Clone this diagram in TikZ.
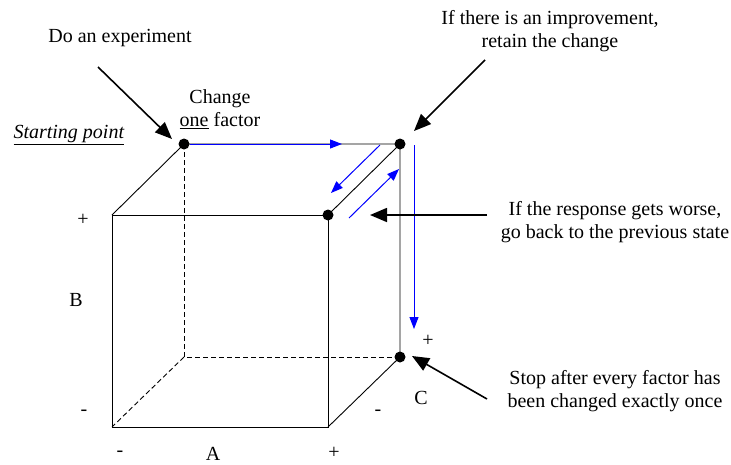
\documentclass[tikz,border=0pt]{standalone}
\usepackage{fontspec}
\setmainfont{Liberation Serif}
\usetikzlibrary{arrows.meta}

\begin{document}
\begin{tikzpicture}[x=1pt, y=-1pt, font=\rmfamily\fontsize{20}{23.5}\selectfont,
  dot/.style={circle, fill=black, inner sep=0pt, minimum size=11pt},
  edge/.style={line width=0.9pt},
  hidden/.style={line width=0.9pt, dash pattern=on 5pt off 3pt},
  note/.style={align=center, inner sep=0pt},
  sign/.style={inner sep=0pt},
  pointer/.style={line width=1.6pt, -{Triangle[length=17pt, width=14pt]}},
  move/.style={blue, line width=1pt, -{Triangle[length=12pt, width=9pt]}}]
  \useasboundingbox (0,0) rectangle (731,464);
  % cube corners: f = front, b = back
  \coordinate (ftl) at (112,215); \coordinate (ftr) at (328,215);
  \coordinate (fbl) at (112,427); \coordinate (fbr) at (328,427);
  \coordinate (btl) at (184,144); \coordinate (btr) at (400,144);
  \coordinate (bbl) at (184,357); \coordinate (bbr) at (400,357);
  \draw[hidden] (btl) -- (bbl) -- (bbr);
  \draw[hidden] (bbl) -- (fbl);
  \draw[edge] (fbl) rectangle (ftr);
  \draw[edge] (ftl) -- (btl) -- (btr) -- (ftr);
  \draw[edge] (btr) -- (bbr) -- (fbr);
  \node[dot] (start) at (btl) {};
  \node[dot] (better) at (btr) {};
  \node[dot] (worse) at (ftr) {};
  \node[dot] (stop) at (bbr) {};
  % moves along the cube
  \coordinate (m1) at (342,144);
  \coordinate (m2a) at (380,145); \coordinate (m2b) at (331,193);
  \coordinate (m3a) at (349,218); \coordinate (m3b) at (399,169);
  \coordinate (m4a) at (414,145); \coordinate (m4b) at (414,329);
  \draw[move] (start) -- (m1);
  \draw[move] (m2a) -- (m2b);
  \draw[move] (m3a) -- (m3b);
  \draw[move] (m4a) -- (m4b);
  % texts
  \node[note] (expt) at (120,38) {Do an experiment};
  \node[note] (chg) at (220,109) {Change\\\underline{one} factor};
  \node[note] (sp) at (69,135) {\underline{\textit{Starting point}}};
  \node[note] (impr) at (550,31) {If there is an improvement,\\retain the change};
  \node[note] (resp) at (615,222) {If the response gets worse,\\go back to the previous state};
  \node[note] (once) at (615,391) {Stop after every factor has\\been changed exactly once};
  % pointers
  \coordinate (p1a) at (98,67); \coordinate (p1b) at (172,139);
  \coordinate (p2a) at (485,60); \coordinate (p2b) at (414,131);
  \coordinate (p3a) at (487,215); \coordinate (p3b) at (370,215);
  \coordinate (p4a) at (487,399); \coordinate (p4b) at (412,356);
  \draw[pointer] (p1a) -- (p1b);
  \draw[pointer] (p2a) -- (p2b);
  \draw[pointer] (p3a) -- (p3b);
  \draw[pointer] (p4a) -- (p4b);
  % factor levels
  \node[sign] (bplus) at (83,220) {+};
  \node[sign] (bname) at (76,300) {B};
  \node[sign] (bminus) at (84,413) {-};
  \node[sign] (aminus) at (120,454) {-};
  \node[sign] (aname) at (213,454) {A};
  \node[sign] (aplus) at (334,453) {+};
  \node[sign] (cminus) at (378,413) {-};
  \node[sign] (cname) at (421,398) {C};
  \node[sign] (cplus) at (428,341) {+};
\end{tikzpicture}
\end{document}
